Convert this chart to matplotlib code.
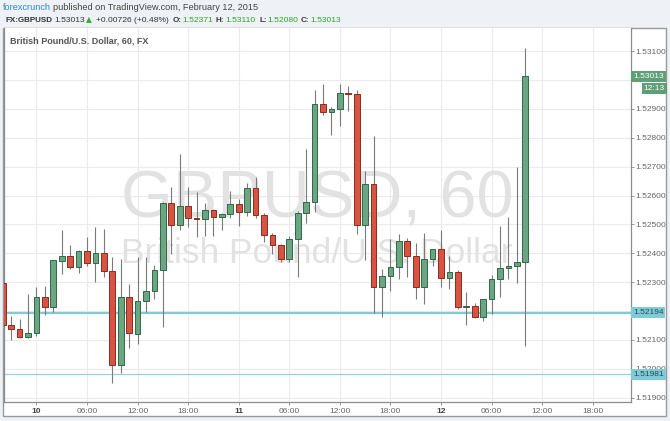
import matplotlib
matplotlib.use("Agg")
import matplotlib.pyplot as plt
import numpy as np
import pandas as pd
from matplotlib.patches import Rectangle
from matplotlib.transforms import blended_transform_factory

plt.rcParams['font.family'] = ['Liberation Sans', 'DejaVu Sans']

# ---------------- data ----------------
start_time = "2015-02-09 20:00"
opens = [1.52296, 1.52150, 1.52138, 1.52109, 1.52123, 1.52250, 1.52213, 1.52374, 1.52391, 1.52352,
         1.52409, 1.52365, 1.52401, 1.52340, 1.52014, 1.52248, 1.52121, 1.52236, 1.52271, 1.52343,
         1.52574, 1.52498, 1.52563, 1.52523, 1.52519, 1.52550, 1.52525, 1.52536, 1.52571, 1.52542,
         1.52626, 1.52533, 1.52464, 1.52430, 1.52379, 1.52450, 1.52538, 1.52579, 1.52916, 1.52890,
         1.52901, 1.52956, 1.52953, 1.52497, 1.52639, 1.52284, 1.52322, 1.52353, 1.52443, 1.52391,
         1.52284, 1.52380, 1.52414, 1.52313, 1.52334, 1.52213, 1.52219, 1.52179, 1.52242, 1.52311,
         1.52348, 1.52355, 1.52371]
highs = [1.52300, 1.52184, 1.52173, 1.52259, 1.52282, 1.52288, 1.52378, 1.52479, 1.52430, 1.52412,
         1.52458, 1.52490, 1.52484, 1.52386, 1.52380, 1.52292, 1.52388, 1.52388, 1.52361, 1.52578,
         1.52631, 1.52742, 1.52631, 1.52613, 1.52574, 1.52553, 1.52540, 1.52615, 1.52588, 1.52642,
         1.52665, 1.52540, 1.52470, 1.52432, 1.52461, 1.52548, 1.52761, 1.52965, 1.52986, 1.52905,
         1.52986, 1.52979, 1.52967, 1.52684, 1.52805, 1.52344, 1.52450, 1.52468, 1.52454, 1.52436,
         1.52470, 1.52414, 1.52479, 1.52391, 1.52341, 1.52265, 1.52227, 1.52242, 1.52324, 1.52496,
         1.52526, 1.52698, 1.53110]
lows = [1.52140, 1.52101, 1.52107, 1.52107, 1.52112, 1.52187, 1.52196, 1.52329, 1.52344, 1.52331,
        1.52356, 1.52302, 1.52319, 1.51952, 1.51986, 1.52073, 1.52087, 1.52197, 1.52242, 1.52144,
        1.52396, 1.52479, 1.52492, 1.52458, 1.52459, 1.52459, 1.52482, 1.52521, 1.52493, 1.52528,
        1.52522, 1.52438, 1.52398, 1.52371, 1.52371, 1.52317, 1.52505, 1.52543, 1.52878, 1.52809,
        1.52841, 1.52893, 1.52465, 1.52376, 1.52194, 1.52180, 1.52271, 1.52312, 1.52319, 1.52242,
        1.52225, 1.52357, 1.52282, 1.52277, 1.52206, 1.52150, 1.52175, 1.52166, 1.52191, 1.52248,
        1.52311, 1.52298, 1.52080]
closes = [1.52150, 1.52138, 1.52109, 1.52124, 1.52250, 1.52213, 1.52375, 1.52391, 1.52352, 1.52409,
          1.52365, 1.52401, 1.52340, 1.52014, 1.52248, 1.52123, 1.52236, 1.52271, 1.52343, 1.52574,
          1.52498, 1.52563, 1.52523, 1.52519, 1.52550, 1.52525, 1.52536, 1.52571, 1.52542, 1.52626,
          1.52533, 1.52464, 1.52430, 1.52379, 1.52450, 1.52538, 1.52579, 1.52916, 1.52890, 1.52901,
          1.52956, 1.52951, 1.52497, 1.52639, 1.52284, 1.52322, 1.52353, 1.52443, 1.52391, 1.52284,
          1.52380, 1.52414, 1.52313, 1.52334, 1.52213, 1.52219, 1.52179, 1.52242, 1.52311, 1.52348,
          1.52355, 1.52371, 1.53013]
support_levels = [1.52194, 1.51981]
last_price = 1.53013
countdown = "12:13"
y_ticks = [1.519, 1.520, 1.521, 1.522, 1.523, 1.524, 1.525, 1.526, 1.527, 1.528, 1.529, 1.530, 1.531]
y_hidden = [1.522, 1.530]   # labels covered by price tags in the reference
x_tick_hours = [0, 6, 12, 18, 24, 30, 36, 42, 48, 54, 60, 66]
x_tick_labels = ["10", "06:00", "12:00", "18:00", "11", "06:00", "12:00", "18:00",
                 "12", "06:00", "12:00", "18:00"]

times = pd.date_range(start_time, periods=len(opens), freq="h")
hours = ((times - pd.Timestamp("2015-02-10 00:00")) / pd.Timedelta(hours=1)).to_numpy()

o = np.array(opens); h = np.array(highs); l = np.array(lows); c = np.array(closes)
up = c >= o

# ---------------- figure ----------------
W, H = 670, 421
fig = plt.figure(figsize=(W / 100, H / 100), dpi=100)
fig.patch.set_facecolor('#eef1f5')

def fx(px):
    return px / W

def fy(py):
    return 1 - py / H

# outer white box (plot + axes areas)
fig.patches.append(Rectangle((fx(3), fy(416)), fx(666) - fx(3), fy(28) - fy(416),
                             transform=fig.transFigure, facecolor='white',
                             edgecolor='#9a9a9a', linewidth=1.0, zorder=-5))

ax = fig.add_axes([fx(4), fy(402), fx(631) - fx(4), fy(28) - fy(402)])
ax.set_zorder(2)
ax.set_facecolor('white')
ax.set_xlim(-3.84, 70.54)
ax.set_ylim(1.51885, 1.53180)

# grid
for yt in y_ticks:
    ax.axhline(yt, color='#ebebeb', lw=0.8, zorder=0)
for xt in x_tick_hours:
    ax.axvline(xt, color='#ebebeb', lw=0.8, zorder=0)

# watermark
wm_color = '#e2e2e2'
ax.text(fx(317), fy(218), "GBPUSD, 60", fontsize=48, color=wm_color, ha='center',
        va='baseline', zorder=1, transform=fig.transFigure)
ax.text(fx(317), fy(263), "British Pound/U.S. Dollar", fontsize=25.5, color=wm_color,
        ha='center', va='baseline', zorder=1, transform=fig.transFigure)

# support lines
ax.axhline(support_levels[0], color='#7fcbd7', lw=1.6, zorder=2)
ax.axhline(support_levels[1], color='#93d3de', lw=0.9, zorder=2)

# candles
ax.vlines(hours, l, h, color='#7a7a7c', lw=0.8, zorder=3)
body_bottom = np.minimum(o, c)
body_height = np.maximum(np.abs(c - o), 0.00003)
ax.bar(hours[up], body_height[up], bottom=body_bottom[up], width=0.68,
       color='#6ba583', edgecolor='#2d6a44', linewidth=0.7, zorder=4)
ax.bar(hours[~up], body_height[~up], bottom=body_bottom[~up], width=0.68,
       color='#d75442', edgecolor='#8c2c20', linewidth=0.7, zorder=4)

# axes styling
ax.spines['top'].set_visible(False)
for s in ['left', 'right', 'bottom']:
    ax.spines[s].set_color('#8c8c8c')
    ax.spines[s].set_linewidth(0.9)

ax.yaxis.tick_right()
ax.set_yticks(y_ticks)
ax.set_yticklabels(["" if any(abs(v - hv) < 1e-9 for hv in y_hidden) else f"{v:.5f}"
                    for v in y_ticks])
ax.tick_params(axis='y', which='both', length=2.2, width=0.6, color='#8c8c8c', pad=1,
               labelsize=6, labelcolor='#666666')
ax.set_xticks(x_tick_hours)
ax.set_xticklabels(x_tick_labels)
ax.tick_params(axis='x', length=2, width=0.6, color='#8c8c8c', pad=2.5, labelsize=6,
               labelcolor='#666666')
for lab in ax.get_xticklabels():
    if ':' not in lab.get_text():
        lab.set_fontweight('bold')
        lab.set_color('#444444')

# price tags on right axis
yt_trans = blended_transform_factory(ax.transAxes, ax.transData)
ax.text(1.003, last_price, f"{last_price:.5f}", transform=yt_trans, fontsize=6, color='white',
        ha='left', va='center', zorder=10,
        bbox=dict(boxstyle='square,pad=0.25', facecolor='#5f9f77', edgecolor='none'))
ax.text(1.054, last_price - 0.00042, countdown, transform=yt_trans, fontsize=6, color='white',
        ha='right', va='center', zorder=10,
        bbox=dict(boxstyle='square,pad=0.25', facecolor='#5f9f77', edgecolor='none'))
for lvl in support_levels:
    ax.text(1.003, lvl, f"{lvl:.5f}", transform=yt_trans, fontsize=6, color='#234a55',
            ha='left', va='center', zorder=10,
            bbox=dict(boxstyle='square,pad=0.25', facecolor='#7fcbd7', edgecolor='none'))

# chart title inside
ax.text(fx(10), fy(41), "British Pound/U.S. Dollar, 60, FX", fontsize=6.5, color='#555555',
        fontweight='bold', ha='left', va='center', zorder=6, transform=fig.transFigure)

# header
fig.text(fx(3), fy(7), "forexcrunch", fontsize=6.6, color='#2a8bc6', ha='left', va='center')
fig.text(fx(53), fy(7), "published on TradingView.com, February 12, 2015", fontsize=6.6,
         color='#444444', ha='left', va='center')

green = '#2ea32e'
hy = fy(20)
fs = 6.1
fig.text(fx(5), hy, "FX:GBPUSD", fontsize=5.8, fontweight='bold', color='#333333', ha='left', va='center')
fig.text(fx(54), hy, f"{last_price:.5f}", fontsize=fs, color='#333333', ha='left', va='center')
fig.text(fx(86), hy, "\u25B2", fontsize=5.5, color='#3aaa3a', ha='left', va='center', family='DejaVu Sans')
fig.text(fx(96), hy, "+0.00726 (+0.48%)", fontsize=fs, color='#333333', ha='left', va='center')
fig.text(fx(173), hy, "O:", fontsize=5.8, fontweight='bold', color='#333333', ha='left', va='center')
fig.text(fx(182), hy, f"{opens[-1]:.5f}", fontsize=fs, color=green, ha='left', va='center')
fig.text(fx(216), hy, "H:", fontsize=5.8, fontweight='bold', color='#333333', ha='left', va='center')
fig.text(fx(225), hy, f"{highs[-1]:.5f}", fontsize=fs, color=green, ha='left', va='center')
fig.text(fx(259), hy, "L:", fontsize=5.8, fontweight='bold', color='#333333', ha='left', va='center')
fig.text(fx(267), hy, f"{lows[-1]:.5f}", fontsize=fs, color=green, ha='left', va='center')
fig.text(fx(301), hy, "C:", fontsize=5.8, fontweight='bold', color='#333333', ha='left', va='center')
fig.text(fx(310), hy, f"{closes[-1]:.5f}", fontsize=fs, color=green, ha='left', va='center')

fig.savefig("out.png", dpi=100, facecolor=fig.get_facecolor())
